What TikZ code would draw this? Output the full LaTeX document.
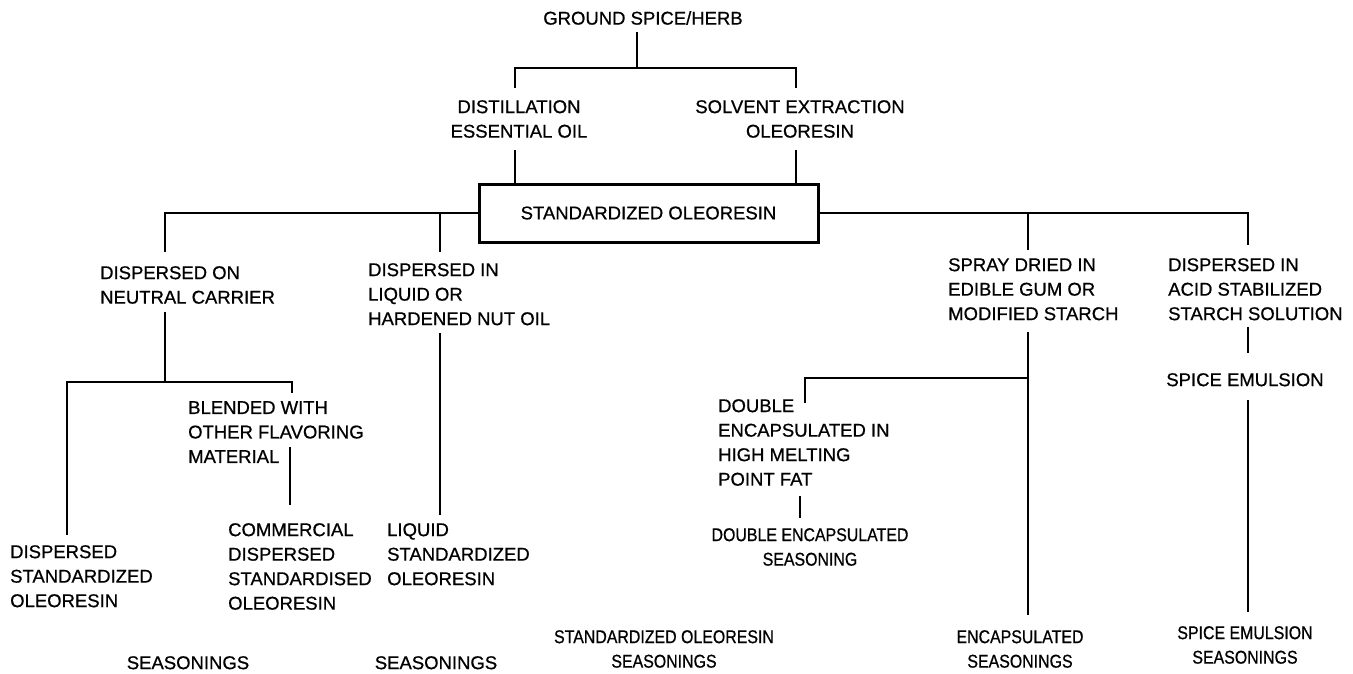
\documentclass[tikz,border=0pt]{standalone}
\usepackage{fontspec}
\setmainfont[FakeBold=0.7]{Liberation Sans}
\newfontfamily\narrowfont[FakeStretch=0.86,FakeBold=0.7]{Liberation Sans}
\tikzset{
  lbl/.style={inner sep=0pt, font=\fontsize{18.5}{24.5}\selectfont},
  lblL/.style={lbl, align=left, anchor=north west},
  lblC/.style={lbl, align=center, anchor=north},
  nar/.style={inner sep=0pt, font=\narrowfont\fontsize{18.5}{24.5}\selectfont, align=center, anchor=north},
  ln/.style={line width=2.6pt},
  mainbox/.style={draw, line width=3pt, minimum width=339pt, minimum height=58pt, inner sep=0pt, font=\fontsize{18.5}{24.5}\selectfont}
}
\begin{document}
\begin{tikzpicture}[x=1pt,y=-1pt]
\useasboundingbox (0,0) rectangle (1353,673);
% ---- labels ----
\node[lblC] (ground) at (643,11) {GROUND SPICE/HERB};
\node[lblC] (dist) at (519,100) {DISTILLATION\\ESSENTIAL OIL};
\node[lblC] (solv) at (800,100) {SOLVENT EXTRACTION\\OLEORESIN};
\node[mainbox] (std) at (648.5,213) {STANDARDIZED OLEORESIN};
\node[lblL] (dispon) at (100,266) {DISPERSED ON\\NEUTRAL CARRIER};
\node[lblL] (dispin) at (368,263) {DISPERSED IN\\LIQUID OR\\HARDENED NUT OIL};
\node[lblL] (spray) at (948,258) {SPRAY DRIED IN\\EDIBLE GUM OR\\MODIFIED STARCH};
\node[lblL] (acid) at (1168,258) {DISPERSED IN\\ACID STABILIZED\\STARCH SOLUTION};
\node[lblL] (blend) at (188,401) {BLENDED WITH\\OTHER FLAVORING\\MATERIAL};
\node[lblL] (dso) at (10,545) {DISPERSED\\STANDARDIZED\\OLEORESIN};
\node[lblL] (cdso) at (228,523) {COMMERCIAL\\DISPERSED\\STANDARDISED\\OLEORESIN};
\node[lblL] (lso) at (387,523) {LIQUID\\STANDARDIZED\\OLEORESIN};
\node[lblL] (dbl) at (718,399) {DOUBLE\\ENCAPSULATED IN\\HIGH MELTING\\POINT FAT};
\node[nar] (des) at (810,528) {DOUBLE ENCAPSULATED\\SEASONING};
\node[lblC] (spem) at (1245,373) {SPICE EMULSION};
\node[lblC] (s1) at (188,656) {SEASONINGS};
\node[lblC] (s2) at (436,656) {SEASONINGS};
\node[nar] (sos) at (664,630) {STANDARDIZED OLEORESIN\\SEASONINGS};
\node[nar] (encs) at (1020,630) {ENCAPSULATED\\SEASONINGS};
\node[nar] (spes) at (1245,626) {SPICE EMULSION\\SEASONINGS};
% ---- junction coordinates ----
\coordinate (g0) at (637,32);
\coordinate (g1) at (637,68);
\coordinate (gL) at (515,68);
\coordinate (gR) at (796,68);
\coordinate (dL) at (515,88);
\coordinate (dR) at (796,88);
\coordinate (eL) at (515,150);
\coordinate (eR) at (796,150);
\coordinate (a1) at (165,252);
\coordinate (a2) at (440,252);
\coordinate (b1) at (1028,250);
\coordinate (b2) at (1248,245);
\coordinate (k0) at (165,312);
\coordinate (k1) at (165,382);
\coordinate (kL) at (67,382);
\coordinate (kR) at (292,382);
\coordinate (kE) at (67,535);
\coordinate (kT) at (292,393);
\coordinate (m0) at (290,447);
\coordinate (m1) at (290,505);
\coordinate (n0) at (440,333);
\coordinate (n1) at (440,515);
\coordinate (p0) at (1028,332);
\coordinate (p1) at (1028,378);
\coordinate (p2) at (1028,615);
\coordinate (q0) at (805,378);
\coordinate (q1) at (805,403);
\coordinate (r0) at (800,496);
\coordinate (r1) at (800,518);
\coordinate (t0) at (1248,327);
\coordinate (t1) at (1248,353);
\coordinate (u0) at (1248,400);
\coordinate (u1) at (1248,612);
% ---- connectors ----
\draw[ln] (g0) -- (g1);
\draw[ln] (dL) -- (gL) -- (gR) -- (dR);
\draw[ln] (eL) -- (std.north -| eL);
\draw[ln] (eR) -- (std.north -| eR);
\draw[ln] (std.west) -| (a1);
\draw[ln] (a2 |- std.west) -- (a2);
\draw[ln] (std.east) -| (b2);
\draw[ln] (b1 |- std.east) -- (b1);
\draw[ln] (k0) -- (k1);
\draw[ln] (kE) -- (kL) -- (kR) -- (kT);
\draw[ln] (m0) -- (m1);
\draw[ln] (n0) -- (n1);
\draw[ln] (p0) -- (p2);
\draw[ln] (q1) -- (q0) -- (p1);
\draw[ln] (r0) -- (r1);
\draw[ln] (t0) -- (t1);
\draw[ln] (u0) -- (u1);
\end{tikzpicture}
\end{document}
